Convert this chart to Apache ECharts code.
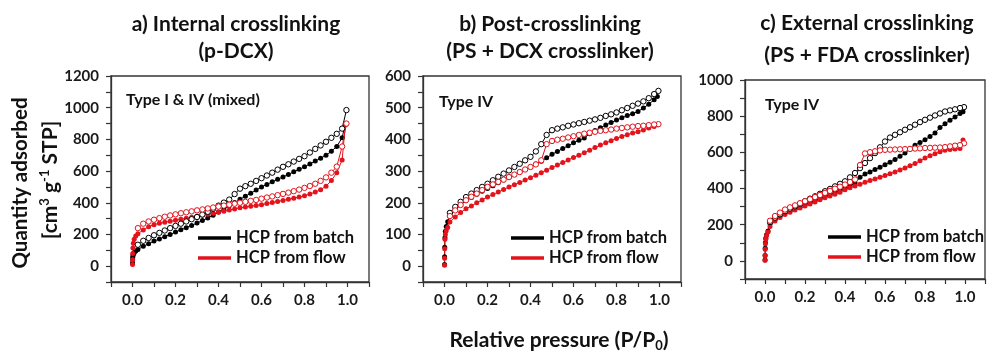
<!DOCTYPE html>
<html>
<head>
<meta charset="utf-8">
<script src="https://cdn.jsdelivr.net/npm/echarts@6/dist/echarts.min.js"></script>
<style>
  html, body { margin: 0; padding: 0; background: #fff; }
  #chart { width: 988px; height: 351px; }
</style>
</head>
<body>
<div id="chart"></div>
<script>
// relative pressure points (P/P0), adsorption branch goes up, desorption comes back down
const adsP = [0.0002, 0.0005, 0.001, 0.002, 0.004, 0.008, 0.015,
  0.025, 0.05, 0.075, 0.1, 0.125, 0.15, 0.175, 0.2, 0.225, 0.25,
  0.275, 0.3, 0.325, 0.35, 0.375, 0.4, 0.425, 0.45, 0.475, 0.5,
  0.525, 0.55, 0.575, 0.6, 0.625, 0.65, 0.675, 0.7, 0.725, 0.75,
  0.775, 0.8, 0.825, 0.85, 0.875, 0.9, 0.925, 0.95, 0.975, 0.99];
const desP = [0.995, 0.975, 0.95, 0.925, 0.9, 0.875, 0.85, 0.825, 0.8, 0.775,
  0.75, 0.725, 0.7, 0.675, 0.65, 0.625, 0.6, 0.575, 0.55, 0.525,
  0.5, 0.475, 0.45, 0.425, 0.4, 0.375, 0.35, 0.325, 0.3, 0.275,
  0.25, 0.225, 0.2, 0.175, 0.15, 0.125, 0.1, 0.075, 0.05, 0.025];

// a) internal crosslinking
const aBatchAds = [20, 40, 55, 65, 75, 85, 95,
  105, 125, 142, 158, 172, 186, 200, 215, 229, 243,
  257, 272, 288, 304, 322, 341, 361, 381, 401, 422,
  441, 460, 480, 500, 516, 532, 548, 563, 579, 595,
  611, 627, 645, 663, 681, 700, 725, 755, 810, 900];
const aBatchDes = [985, 868, 835, 810, 785, 762, 740, 717, 694, 677,
  660, 643, 627, 609, 590, 572, 555, 538, 520, 505,
  489, 455, 420, 401, 382, 362, 343, 326, 310, 296,
  282, 268, 254, 240, 225, 210, 195, 178, 160, 135];
const aFlowAds = [10, 40, 80, 115, 145, 170, 190,
  205, 228, 248, 262, 270, 277, 283, 289, 296, 302,
  309, 315, 321, 328, 334, 340, 347, 354, 361, 368,
  373, 378, 383, 388, 395, 401, 408, 415, 422, 429,
  436, 444, 455, 468, 482, 505, 540, 590, 670, 890];
const aFlowDes = [900, 755, 628, 590, 560, 538, 520, 506, 494, 483,
  473, 464, 456, 448, 440, 433, 426, 418, 412, 406,
  400, 394, 388, 382, 376, 370, 364, 358, 352, 346,
  340, 334, 327, 320, 312, 303, 293, 282, 268, 240];

// b) post-crosslinking
const bBatchAds = [5, 30, 60, 90, 110, 125, 140,
  158, 181, 196, 208, 217, 227, 236, 245, 254, 263,
  272, 281, 289, 297, 305, 313, 322, 331, 342, 353,
  362, 371, 380, 389, 397, 404, 418, 428, 437, 445,
  453, 461, 468, 475, 481, 488, 499, 511, 525, 535];
const bBatchDes = [553, 543, 530, 520, 513, 506, 499, 492, 485, 479,
  474, 468, 463, 459, 455, 451, 447, 443, 438, 434,
  429, 414, 385, 362, 345, 334, 323, 313, 302, 292,
  282, 271, 260, 250, 240, 229, 218, 203, 187, 168];
const bFlowAds = [3, 25, 55, 85, 100, 112, 122,
  139, 155, 169, 181, 190, 200, 209, 218, 226, 234,
  242, 250, 257, 264, 272, 279, 287, 295, 303, 311,
  319, 327, 335, 343, 350, 358, 366, 374, 382, 389,
  396, 403, 409, 415, 420, 424, 430, 436, 441, 446];
const bFlowDes = [448, 447, 445, 443, 442, 440, 438, 436, 434, 431,
  429, 427, 424, 421, 418, 414, 410, 406, 402, 399,
  395, 385, 334, 321, 313, 305, 297, 289, 281, 273,
  266, 258, 250, 240, 229, 219, 208, 193, 176, 158];

// c) external crosslinking
const cBatchAds = [5, 30, 70, 100, 125, 145, 165,
  205, 229, 249, 266, 279, 290, 301, 312, 323, 334,
  345, 357, 369, 380, 391, 402, 415, 430, 462, 480,
  492, 505, 518, 532, 546, 560, 578, 596, 618, 640,
  655, 670, 688, 707, 738, 758, 778, 795, 815, 825];
const cBatchDes = [850, 845, 838, 832, 826, 815, 804, 792, 780, 767,
  753, 739, 725, 711, 697, 682, 660, 628, 596, 568,
  541, 513, 486, 462, 440, 426, 412, 398, 385, 371,
  357, 344, 330, 316, 302, 289, 275, 258, 239, 215];
const cFlowAds = [3, 30, 65, 95, 120, 140, 160,
  190, 220, 240, 257, 269, 281, 292, 303, 315, 326,
  338, 349, 359, 369, 380, 394, 404, 414, 424, 435,
  444, 453, 462, 472, 482, 492, 503, 514, 526, 538,
  553, 569, 581, 592, 603, 612, 616, 618, 622, 668];
const cFlowDes = [650, 640, 637, 633, 629, 627, 626, 625, 624, 622,
  621, 619, 618, 617, 616, 615, 614, 611, 606, 601,
  594, 530, 450, 436, 422, 410, 399, 387, 376, 364,
  353, 341, 330, 319, 307, 296, 284, 267, 248, 222];

const titles = [
  ['a) Internal crosslinking', '(p-DCX)'],
  ['b) Post-crosslinking', '(PS + DCX crosslinker)'],
  ['c) External crosslinking', '(PS + FDA crosslinker)']
];
const typeLabels = ['Type I & IV (mixed)', 'Type IV', 'Type IV'];
const yRanges = [[-100, 1200, 100, 200], [-50, 600, 50, 100], [-100, 1000, 100, 200]];
const names = ['HCP from batch', 'HCP from flow'];

const BLACK = '#000000';
const RED = '#e3121b';
const FONT = 'Lato';
const AXIS = '#333';

const grids = [
  { left: 111, top: 76, width: 258, height: 206 },
  { left: 423, top: 76, width: 258, height: 206 },
  { left: 745, top: 80, width: 250, height: 199 }
];

const pair = (xs, ys) => xs.map((x, i) => [x, ys[i]]);

function iso(name, color, xs, ys, idx, open) {
  return {
    type: 'line',
    name: name,
    xAxisIndex: idx,
    yAxisIndex: idx,
    data: pair(xs, ys),
    symbol: 'circle',
    symbolSize: open ? 5.4 : 5,
    showSymbol: true,
    lineStyle: { color: color, width: 1 },
    itemStyle: open ? { color: '#fff', borderColor: color, borderWidth: 1 } : { color: color },
    emphasis: { disabled: true },
    silent: true,
    z: open ? 3 : 2
  };
}

const panels = [
  [aBatchAds, aBatchDes, aFlowAds, aFlowDes],
  [bBatchAds, bBatchDes, bFlowAds, bFlowDes],
  [cBatchAds, cBatchDes, cFlowAds, cFlowDes]
];

const series = [];
panels.forEach((p, i) => {
  series.push(iso(names[0], BLACK, adsP, p[0], i, false));
  series.push(iso(names[0], BLACK, desP, p[1], i, true));
  series.push(iso(names[1], RED, adsP, p[2], i, false));
  series.push(iso(names[1], RED, desP, p[3], i, true));
});

const tickLabel = { fontFamily: FONT, fontWeight: 'bold', fontSize: 15, color: '#1a1a1a' };

const xAxes = grids.map((g, i) => ({
  type: 'value', gridIndex: i, min: -0.1, max: 1.1, interval: 0.1,
  axisLine: { onZero: false, lineStyle: { color: AXIS, width: 1.3 } },
  axisTick: { length: 5, lineStyle: { color: AXIS, width: 1.2 } },
  splitLine: { show: false },
  axisLabel: Object.assign({}, tickLabel, {
    margin: 11,
    formatter: v => {
      const k = Math.round(v * 10);
      return (k >= 0 && k <= 10 && k % 2 === 0) ? (k / 10).toFixed(1) : '';
    }
  })
}));

const yAxes = yRanges.map((r, i) => ({
  type: 'value', gridIndex: i, min: r[0], max: r[1], interval: r[2],
  axisLine: { onZero: false, lineStyle: { color: AXIS, width: 1.3 } },
  axisTick: { length: 5, lineStyle: { color: AXIS, width: 1.2 } },
  splitLine: { show: false },
  axisLabel: Object.assign({}, tickLabel, {
    margin: 12,
    formatter: v => (v >= 0 && Math.round(v) % r[3] === 0) ? String(Math.round(v)) : ''
  })
}));

const legendPos = [[198, 229], [511, 229], [828, 228]];
const legends = legendPos.map(p => ({
  left: p[0], top: p[1], orient: 'vertical', selectedMode: false,
  itemWidth: 33, itemHeight: 3.5, itemGap: 2, padding: 0,
  textStyle: { fontFamily: FONT, fontWeight: 'bold', fontSize: 16.5, color: '#111', lineHeight: 18 },
  data: names.map(n => ({ name: n, icon: 'rect' }))
}));

const titleCx = [236, 550, 867];
const titleY = [[24, 51], [24, 51], [23, 55]];
const typePos = [[126, 100], [439, 102], [765, 105]];

const graphic = [];
titles.forEach((t, i) => {
  t.forEach((line, j) => {
    graphic.push({
      type: 'text', x: titleCx[i], y: titleY[i][j], silent: true,
      style: { text: line, fill: '#111', font: 'bold 21px ' + FONT,
        textAlign: 'center', textVerticalAlign: 'middle' }
    });
  });
  graphic.push({
    type: 'text', x: typePos[i][0], y: typePos[i][1], silent: true,
    style: { text: typeLabels[i], fill: '#111', font: 'bold 16px ' + FONT,
      textAlign: 'left', textVerticalAlign: 'middle' }
  });
});

graphic.push({
  type: 'text', x: 20, y: 183, rotation: Math.PI / 2, silent: true,
  style: { text: 'Quantity adsorbed', fill: '#111', font: 'bold 20.5px ' + FONT,
    textAlign: 'center', textVerticalAlign: 'middle' }
});
graphic.push({
  type: 'text', x: 50, y: 180, rotation: Math.PI / 2, silent: true,
  style: {
    text: '{a|[cm}{s|3}{a| g}{s|-1}{a| STP]}',
    textAlign: 'center', textVerticalAlign: 'middle',
    rich: {
      a: { fontFamily: FONT, fontWeight: 'bold', fontSize: 21, fill: '#111', lineHeight: 24 },
      s: { fontFamily: FONT, fontWeight: 'bold', fontSize: 13, fill: '#111', verticalAlign: 'top', lineHeight: 24 }
    }
  }
});
graphic.push({
  type: 'text', x: 559, y: 340, silent: true,
  style: {
    text: '{a|Relative pressure (P/P}{s|0}{a|)}',
    textAlign: 'center', textVerticalAlign: 'middle',
    rich: {
      a: { fontFamily: FONT, fontWeight: 'bold', fontSize: 21, fill: '#111', lineHeight: 24 },
      s: { fontFamily: FONT, fontWeight: 'bold', fontSize: 13, fill: '#111', verticalAlign: 'bottom', lineHeight: 24 }
    }
  }
});

const option = {
  animation: false,
  backgroundColor: '#fff',
  grid: grids.map(g => Object.assign({ show: true, borderColor: AXIS, borderWidth: 1.3, backgroundColor: 'transparent' }, g)),
  xAxis: xAxes,
  yAxis: yAxes,
  legend: legends,
  graphic: graphic,
  series: series
};

const chart = echarts.init(document.getElementById('chart'), null, { renderer: 'canvas' });
chart.setOption(option);
</script>
</body>
</html>
